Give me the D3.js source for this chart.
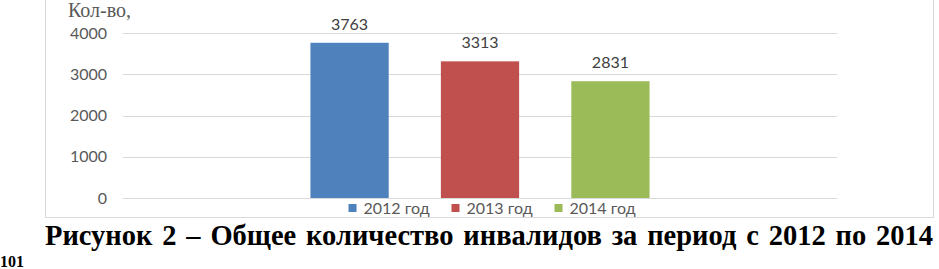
<!DOCTYPE html>
<html>
  <head>
    <meta charset="utf-8">
    <title>Общее количество инвалидов</title>
    <script src="https://d3js.org/d3.v7.min.js"></script>
    <style>
      body { margin: 0; background: #fff; }
      svg { display: block; }
    </style>
  </head>
  <body>
    <div id="chart"></div>
    <script>
      // data
      var series = ["2012 год", "2013 год", "2014 год"];
      var values = [3763, 3313, 2831];
      var colours = ["#4F81BD", "#C0504D", "#9BBB59"];
      var yTicks = [0, 1000, 2000, 3000, 4000];
      var yLabel = "Кол-во,";
      var caption = "Рисунок 2 – Общее количество инвалидов за период с 2012 по 2014";
      var pageNo = "101";

      var width = 939, height = 269;
      var frame = { left: 45.5, right: 933.5, bottom: 217.5 };
      var plot = { left: 123, right: 837, top: 33, bottom: 198 };

      var svg = d3.select("#chart")
        .append("svg")
          .attr("width", width)
          .attr("height", height);

      // chart area border
      svg.append("rect")
        .attr("x", frame.left)
        .attr("y", -5)
        .attr("width", frame.right - frame.left)
        .attr("height", frame.bottom + 5)
        .attr("fill", "none")
        .attr("stroke", "#d9d9d9");

      // scales
      var y = d3.scaleLinear()
        .domain([0, 4000])
        .range([plot.bottom, plot.top]);
      var x0 = d3.scaleBand()
        .domain(["all"])
        .range([plot.left, plot.right])
        .padding(0.356);
      var x1 = d3.scaleBand()
        .domain(series)
        .range([0, x0.bandwidth()])
        .paddingInner(0.4)
        .paddingOuter(0);

      // gridlines
      svg.append("g")
        .selectAll("line")
        .data(yTicks)
        .enter().append("line")
          .attr("x1", plot.left)
          .attr("x2", plot.right)
          .attr("y1", function(d) { return Math.round(y(d)) + 0.5; })
          .attr("y2", function(d) { return Math.round(y(d)) + 0.5; })
          .attr("stroke", "#d9d9d9")
          .attr("stroke-width", 1);

      // y axis labels
      var yAxis = svg.append("g")
        .attr("transform", "translate(" + (plot.left - 16) + ",0)")
        .call(d3.axisLeft(y).tickValues(yTicks).tickFormat(d3.format("d")).tickSize(0).tickPadding(0));
      yAxis.select(".domain").remove();
      yAxis.selectAll("text")
        .attr("fill", "#595959")
        .style("font-family", "Lato, sans-serif")
        .style("font-size", "16px");

      svg.append("text")
        .attr("x", 68)
        .attr("y", 17)
        .attr("fill", "#595959")
        .style("font-family", "'Liberation Serif', serif")
        .style("font-size", "20px")
        .text(yLabel);

      // bars
      var bars = svg.append("g")
        .attr("transform", "translate(" + x0("all") + ",0)");
      bars.selectAll("rect")
        .data(values)
        .enter().append("rect")
          .attr("x", function(d, i) { return x1(series[i]); })
          .attr("y", function(d) { return y(d); })
          .attr("width", x1.bandwidth())
          .attr("height", function(d) { return y(0) - y(d); })
          .attr("fill", function(d, i) { return colours[i]; });
      bars.selectAll("text")
        .data(values)
        .enter().append("text")
          .attr("x", function(d, i) { return x1(series[i]) + x1.bandwidth() / 2; })
          .attr("y", function(d) { return y(d) - 13; })
          .attr("text-anchor", "middle")
          .attr("fill", "#404040")
          .style("font-family", "Lato, sans-serif")
          .style("font-size", "16px")
          .text(function(d) { return d; });

      // legend
      var itemWidth = 103;
      var legendX = (frame.left + frame.right) / 2 - (itemWidth * 3 - 27) / 2;
      var legend = svg.append("g")
        .attr("transform", "translate(" + legendX + ",208)");
      var items = legend.selectAll("g")
        .data(series)
        .enter().append("g")
          .attr("transform", function(d, i) { return "translate(" + (i * itemWidth) + ",0)"; });
      items.append("rect")
        .attr("x", 0)
        .attr("y", -4)
        .attr("width", 8)
        .attr("height", 8)
        .attr("fill", function(d, i) { return colours[i]; });
      items.append("text")
        .attr("x", 15)
        .attr("y", 6)
        .attr("fill", "#595959")
        .style("font-family", "Lato, sans-serif")
        .style("font-size", "16px")
        .text(function(d) { return d; });

      // caption below chart, justified by widening the word gaps
      var cap = svg.append("text")
        .attr("x", 45)
        .attr("y", 245)
        .attr("fill", "#000")
        .style("font-family", "'Liberation Serif', serif")
        .style("font-weight", "bold")
        .style("font-size", "28.5px")
        .text(caption);
      var natural = cap.node().getComputedTextLength();
      var gaps = caption.split(" ").length - 1;
      if (natural < 888) {
        cap.style("word-spacing", ((888 - natural) / gaps) + "px");
      } else {
        cap.attr("textLength", 888).attr("lengthAdjust", "spacingAndGlyphs");
      }

      svg.append("text")
        .attr("x", 0)
        .attr("y", 267)
        .attr("fill", "#000")
        .style("font-family", "'Liberation Serif', serif")
        .style("font-weight", "bold")
        .style("font-size", "16px")
        .text(pageNo);
    </script>
  </body>
</html>
